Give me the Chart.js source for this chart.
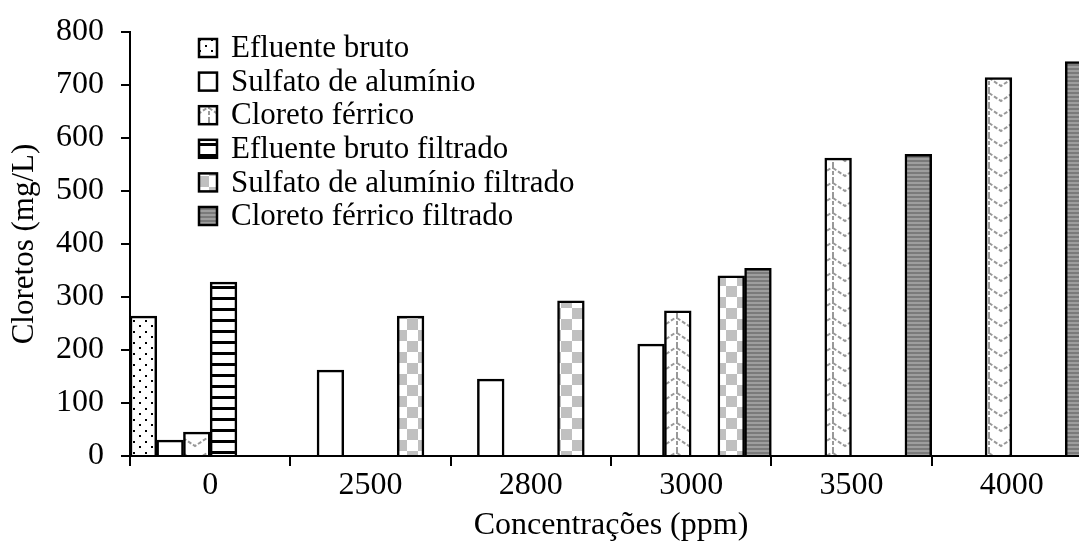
<!DOCTYPE html>
<html>
<head>
<meta charset="utf-8">
<script src="https://cdn.jsdelivr.net/npm/chart.js@4.4.1/dist/chart.umd.min.js"></script>
<style>
  html, body { margin: 0; padding: 0; background: #fff; }
  #wrap { width: 1079px; height: 551px; overflow: hidden; }
</style>
</head>
<body>
<div id="wrap"><canvas id="chart" width="1100" height="551"></canvas></div>
<script>
const categories = ['0', '2500', '2800', '3000', '3500', '4000'];
const seriesLabels = [
  'Efluente bruto',
  'Sulfato de alumínio',
  'Cloreto férrico',
  'Efluente bruto filtrado',
  'Sulfato de alumínio filtrado',
  'Cloreto férrico filtrado',
];
const efluenteBruto = [264, null, null, null, null, null];
const sulfato = [30, 162, 145, 211, null, null];
const cloreto = [45, null, null, 274, 562, 714];
const efluenteFiltrado = [328, null, null, null, null, null];
const sulfatoFiltrado = [null, 264, 293, 340, null, null];
const cloretoFiltrado = [null, null, null, 354, 569, 744];
const yTicks = [0, 100, 200, 300, 400, 500, 600, 700, 800];

const FONT = "'Liberation Serif', 'Times New Roman', serif";

function makePattern(w, h, paint) {
  const c = document.createElement('canvas');
  c.width = w;
  c.height = h;
  const g = c.getContext('2d');
  paint(g);
  return document.getElementById('chart').getContext('2d').createPattern(c, 'repeat');
}

const dots = makePattern(12, 11, (g) => {
  g.fillStyle = '#fff';
  g.fillRect(0, 0, 12, 11);
  g.fillStyle = '#000';
  g.fillRect(1, 1, 2, 2);
  g.fillRect(7, 6, 2, 2);
});

const chevron = makePattern(26, 15, (g) => {
  g.fillStyle = '#fff';
  g.fillRect(0, 0, 26, 15);
  g.strokeStyle = '#999';
  g.lineWidth = 2;
  g.setLineDash([4, 2]);
  g.beginPath();
  g.moveTo(1, 3);
  g.lineTo(13, 11);
  g.lineTo(25, 3);
  g.moveTo(1, 0);
  g.lineTo(1, 15);
  g.stroke();
});

const hLines = makePattern(8, 11, (g) => {
  g.fillStyle = '#fff';
  g.fillRect(0, 0, 8, 11);
  g.fillStyle = '#000';
  g.fillRect(0, 0, 8, 3);
});

const checker = makePattern(22, 22, (g) => {
  g.fillStyle = '#fff';
  g.fillRect(0, 0, 22, 22);
  g.fillStyle = '#c0c0c0';
  g.fillRect(0, 0, 11, 11);
  g.fillRect(11, 11, 11, 11);
});

const greyStripes = makePattern(4, 4, (g) => {
  g.fillStyle = '#7a7a7a';
  g.fillRect(0, 0, 4, 2);
  g.fillStyle = '#9e9e9e';
  g.fillRect(0, 2, 4, 2);
});

const fills = [dots, '#fff', chevron, hLines, checker, greyStripes];
const values = [efluenteBruto, sulfato, cloreto, efluenteFiltrado, sulfatoFiltrado, cloretoFiltrado];

// legend drawn inside the plot, like the original
const innerLegend = {
  id: 'innerLegend',
  afterDraw(chart) {
    const ctx = chart.ctx;
    ctx.save();
    ctx.font = '31px ' + FONT;
    ctx.textBaseline = 'middle';
    ctx.textAlign = 'left';
    chart.data.datasets.forEach((ds, i) => {
      const y = 48 + i * 33.6;
      ctx.fillStyle = ds.backgroundColor;
      ctx.fillRect(199, y - 9, 18, 18);
      ctx.strokeStyle = '#000';
      ctx.lineWidth = 2.5;
      ctx.strokeRect(199, y - 9, 18, 18);
      ctx.fillStyle = '#000';
      ctx.fillText(ds.label, 231, y + 1);
    });
    ctx.restore();
  },
};

new Chart(document.getElementById('chart'), {
  type: 'bar',
  data: {
    labels: categories,
    datasets: seriesLabels.map((label, i) => ({
      label: label,
      data: values[i],
      backgroundColor: fills[i],
      borderColor: '#000',
      borderWidth: 2.5,
      barPercentage: 1,
      categoryPercentage: 1,
    })),
  },
  options: {
    responsive: false,
    animation: false,
    devicePixelRatio: 1,
    layout: { padding: { top: 32, right: 8, bottom: 0, left: 0 } },
    plugins: {
      legend: { display: false },
      tooltip: { enabled: false },
    },
    scales: {
      x: {
        grid: {
          offset: true,
          drawOnChartArea: false,
          drawTicks: true,
          tickLength: 10,
          color: '#000',
          lineWidth: 2,
        },
        border: { color: '#000', width: 2 },
        ticks: { color: '#000', font: { family: FONT, size: 32 }, padding: 0, maxRotation: 0 },
        title: {
          display: true,
          text: 'Concentrações (ppm)',
          color: '#000',
          font: { family: FONT, size: 32 },
          padding: { top: 0, bottom: 6 },
        },
        afterFit(scale) {
          scale.height = 95;
          scale.paddingLeft = 0;
          scale.paddingRight = 0;
        },
      },
      y: {
        min: 0,
        max: 800,
        afterBuildTicks(scale) {
          scale.ticks = yTicks.map((v) => ({ value: v }));
        },
        grid: {
          drawOnChartArea: false,
          drawTicks: true,
          tickLength: 9,
          color: '#000',
          lineWidth: 2,
        },
        border: { color: '#000', width: 2 },
        ticks: { color: '#000', font: { family: FONT, size: 32 }, padding: 17 },
        title: {
          display: true,
          text: 'Cloretos (mg/L)',
          color: '#000',
          font: { family: FONT, size: 31 },
          padding: { top: 6, bottom: 0 },
        },
        afterFit(scale) {
          scale.width = 130;
          scale.paddingTop = 0;
          scale.paddingBottom = 0;
        },
      },
    },
  },
  plugins: [innerLegend],
});
</script>
</body>
</html>
